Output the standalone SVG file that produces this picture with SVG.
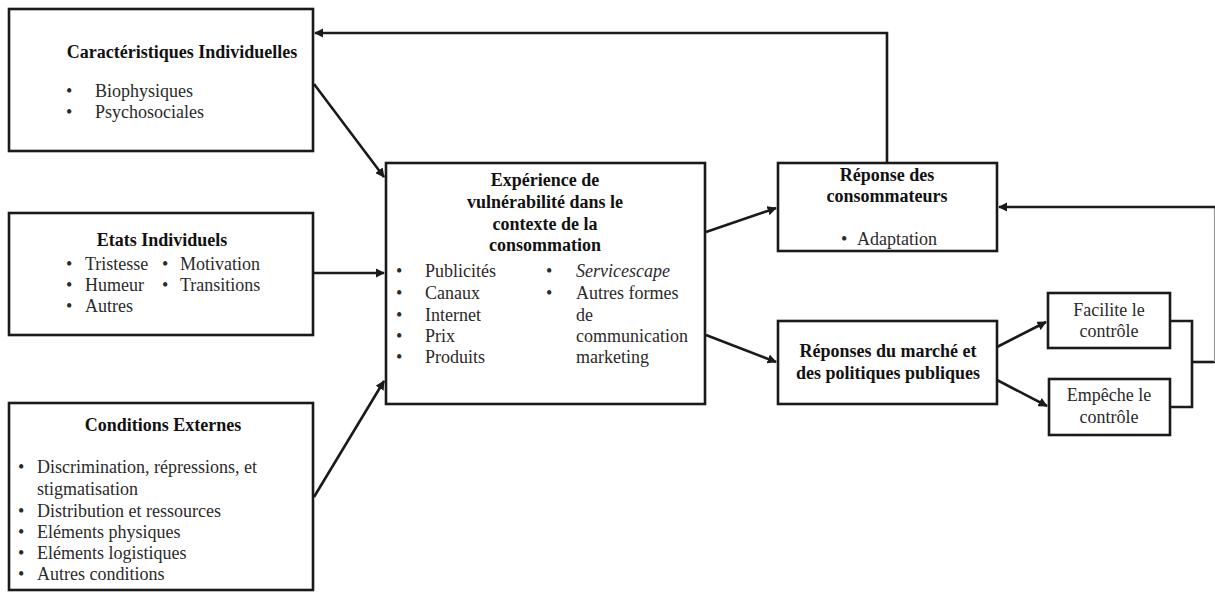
<svg xmlns="http://www.w3.org/2000/svg" width="1215" height="592" viewBox="0 0 1215 592">
<style>
.box{fill:#fff;stroke:#1a1a1a;stroke-width:2.6}
.t{font-family:"Liberation Serif","Times New Roman",serif;font-size:18px;fill:#2a2a2a}
.b{font-family:"Liberation Serif","Times New Roman",serif;font-size:18px;font-weight:bold;fill:#111}
.c{text-anchor:middle}
.ln{fill:none;stroke:#1a1a1a;stroke-width:2.6}
.arr{marker-end:url(#ah)}
</style>
<defs>
<marker id="ah" viewBox="0 0 10 10" refX="9" refY="5" markerWidth="3.6" markerHeight="3.6" orient="auto" markerUnits="strokeWidth">
<path d="M0,0 L10,5 L0,10 z" fill="#1a1a1a"/>
</marker>
</defs>
<rect width="1215" height="592" fill="#fff"/>
<g id="connectors">
<path class="ln arr" d="M887,163 V33 H315"/>
<path class="ln arr" d="M314,84 L384,177"/>
<path class="ln arr" d="M314,273 H384"/>
<path class="ln arr" d="M314,497 L384,381"/>
<path class="ln arr" d="M706,232 L776,208"/>
<path class="ln arr" d="M706,335 L776,362"/>
<path class="ln arr" d="M997,347 L1046,322"/>
<path class="ln arr" d="M997,380 L1047,406"/>
<path class="ln" d="M1170,321 H1192 V407 H1170"/>
<path class="ln" d="M1192,362 H1216"/>
<path d="M1214.5,207 V362" fill="none" stroke="#999" stroke-width="1.2"/>
<path class="ln arr" d="M1215,207 H999"/>
</g>
<g id="n1">
<rect class="box" x="9" y="9" width="304" height="142"/>
<text class="b c" x="182" y="58">Caractéristiques Individuelles</text>
<text class="t" x="66" y="97">•</text><text class="t" x="95" y="97">Biophysiques</text>
<text class="t" x="66" y="118">•</text><text class="t" x="95" y="118">Psychosociales</text>
</g>
<g id="n2">
<rect class="box" x="9" y="213" width="304" height="122"/>
<text class="b c" x="162" y="246">Etats Individuels</text>
<text class="t" x="66" y="270">•</text><text class="t" x="85" y="270">Tristesse</text>
<text class="t" x="162" y="270">•</text><text class="t" x="180" y="270">Motivation</text>
<text class="t" x="66" y="291">•</text><text class="t" x="85" y="291">Humeur</text>
<text class="t" x="162" y="291">•</text><text class="t" x="180" y="291">Transitions</text>
<text class="t" x="66" y="312">•</text><text class="t" x="85" y="312">Autres</text>
</g>
<g id="n3">
<rect class="box" x="9" y="403" width="304" height="187"/>
<text class="b c" x="163" y="431">Conditions Externes</text>
<text class="t" x="18" y="473">•</text><text class="t" x="37" y="473">Discrimination, répressions, et</text>
<text class="t" x="37" y="495">stigmatisation</text>
<text class="t" x="18" y="517">•</text><text class="t" x="37" y="517">Distribution et ressources</text>
<text class="t" x="18" y="538">•</text><text class="t" x="37" y="538">Eléments physiques</text>
<text class="t" x="18" y="559">•</text><text class="t" x="37" y="559">Eléments logistiques</text>
<text class="t" x="18" y="580">•</text><text class="t" x="37" y="580">Autres conditions</text>
</g>
<g id="n4">
<rect class="box" x="386" y="163" width="319" height="241"/>
<text class="b c" x="545" y="186">Expérience de</text>
<text class="b c" x="545" y="208">vulnérabilité dans le</text>
<text class="b c" x="545" y="230">contexte de la</text>
<text class="b c" x="545" y="251">consommation</text>
<text class="t" x="396" y="277">•</text><text class="t" x="425" y="277">Publicités</text>
<text class="t" x="396" y="299">•</text><text class="t" x="425" y="299">Canaux</text>
<text class="t" x="396" y="321">•</text><text class="t" x="425" y="321">Internet</text>
<text class="t" x="396" y="342">•</text><text class="t" x="425" y="342">Prix</text>
<text class="t" x="396" y="363">•</text><text class="t" x="425" y="363">Produits</text>
<text class="t" x="546" y="277">•</text><text class="t" x="576" y="277" font-style="italic">Servicescape</text>
<text class="t" x="546" y="299">•</text><text class="t" x="576" y="299">Autres formes</text>
<text class="t" x="576" y="321">de</text>
<text class="t" x="576" y="342">communication</text>
<text class="t" x="576" y="363">marketing</text>
</g>
<g id="n5">
<rect class="box" x="778" y="163" width="219" height="88"/>
<text class="b c" x="887" y="181">Réponse des</text>
<text class="b c" x="887" y="202">consommateurs</text>
<text class="t" x="841" y="245">•</text><text class="t" x="857" y="245">Adaptation</text>
</g>
<g id="n6">
<rect class="box" x="778" y="321" width="219" height="83"/>
<text class="b c" x="888" y="357">Réponses du marché et</text>
<text class="b c" x="888" y="379">des politiques publiques</text>
</g>
<g id="n7">
<rect class="box" x="1048" y="293" width="122" height="55"/>
<text class="t c" x="1109" y="316">Facilite le</text>
<text class="t c" x="1109" y="337">contrôle</text>
</g>
<g id="n8">
<rect class="box" x="1049" y="379" width="121" height="56"/>
<text class="t c" x="1109" y="401">Empêche le</text>
<text class="t c" x="1109" y="423">contrôle</text>
</g>
</svg>
